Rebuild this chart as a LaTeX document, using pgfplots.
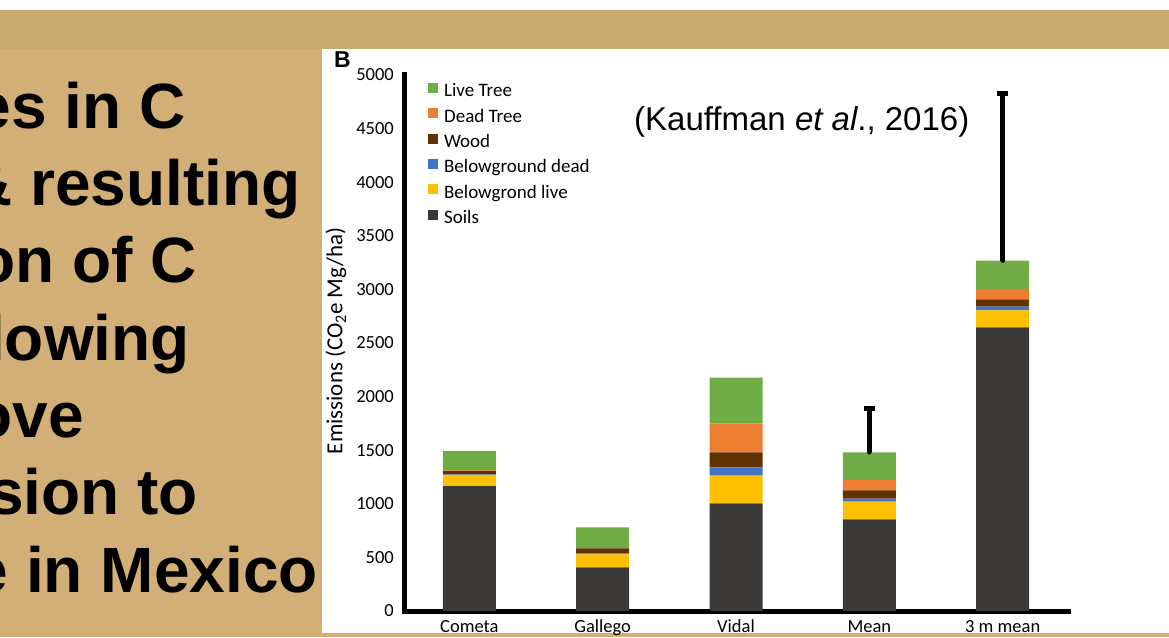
\documentclass[border=0pt]{standalone}
\usepackage{pgfplots}
\usepackage{pgfplotstable}
\pgfplotsset{compat=1.18}
\usepackage{fontspec}
\setmainfont{Carlito}
\newfontfamily\arial{Liberation Sans}
\definecolor{tanA}{HTML}{C8AB72}
\definecolor{tanB}{HTML}{D3AF78}
\definecolor{cLive}{HTML}{70AD47}
\definecolor{cDead}{HTML}{ED7D31}
\definecolor{cWood}{HTML}{613100}
\definecolor{cBgDead}{HTML}{4472C4}
\definecolor{cBgLive}{HTML}{FFC000}
\definecolor{cSoil}{HTML}{3A3938}

\pgfplotstableread{
x soils bglive bgdead wood dead live
0 1166 103 5 32 5 182
1 407 122 8 48 0 196
2 1005 257 78 140 271 425
3 855 165 28 78 96 258
4 2646 159 34 69 96 264
}\datatable

\pgfplotstableread{
x total err top
3 1480 411 1891
4 3268 1555 4823
}\errtable

\begin{document}
\begin{tikzpicture}[x=1pt,y=1pt]
\useasboundingbox (0,0) rectangle (1169,637);
\clip (0,0) rectangle (1169,637);
\fill[white] (0,0) rectangle (1169,637);
\fill[tanA] (0,588) rectangle (1169,627);
\fill[tanB] (0,0) rectangle (322,588);
\fill[tanB] (0,0) rectangle (1169,4);
% slide title fragment
\begin{scope}[every node/.style={anchor=base east, inner sep=0pt, font=\arial\bfseries\fontsize{64}{77}\selectfont}]
\node at (186,508) {es in C};
\node at (301,431) {\& resulting};
\node at (197,354) {on of C};
\node at (190,276) {lowing};
\node at (84,199) {ove};
\node at (198,122) {sion to};
\node at (318,45) {e in Mexico};
\end{scope}
\node[anchor=base west, inner sep=0pt, font=\arial\bfseries\fontsize{23}{27}\selectfont] at (334,569) {B};
\node[anchor=base west, inner sep=0pt, font=\arial\fontsize{33}{39}\selectfont] at (634,506) {(Kauffman \textit{et al}., 2016)};
\node[rotate=90, inner sep=0pt, font=\fontsize{23}{27}\selectfont] at (336,296) {Emissions (CO\textsubscript{2}e Mg/ha)};

\begin{axis}[
  at={(404pt,26pt)}, anchor=south west,
  scale only axis, width=664pt, height=536pt,
  ybar stacked, bar width=53pt,
  xmin=-0.49, xmax=4.49, ymin=0, ymax=5000,
  axis x line=bottom, axis y line=left,
  axis line style={-, line width=5pt, line cap=rect},
  major tick length=0pt,
  xtick={0,1,2,3,4},
  xticklabels={Cometa,Gallego,Vidal,Mean,3 m mean},
  ytick={0,500,...,5000},
  scaled y ticks=false,
  /pgf/number format/1000 sep={},
  /pgf/number format/assume math mode=true,
  tick label style={font=\fontsize{18.5}{21}\selectfont},
  yticklabel style={inner sep=0pt, xshift=-10pt},
  xticklabel style={inner sep=0pt, anchor=base, yshift=-21pt},
  reverse legend,
  legend cell align=left,
  legend style={at={(axis description cs:0.036,0.986)}, anchor=north west,
    draw=none, fill=none, inner sep=0pt, row sep=7.4pt,
    font=\fontsize{19}{22}\selectfont,
    nodes={inner sep=0pt, text height=12pt, text depth=4pt},
    /tikz/every odd column/.append style={column sep=6pt}},
  legend image code/.code={\fill[#1, draw=none] (0pt,0pt) rectangle (10pt,10pt);},
]
\addplot[fill=cSoil, draw=none] table[x=x, y=soils] {\datatable};
\addlegendentry{Soils}
\addplot[fill=cBgLive, draw=none] table[x=x, y=bglive] {\datatable};
\addlegendentry{Belowgrond live}
\addplot[fill=cBgDead, draw=none] table[x=x, y=bgdead] {\datatable};
\addlegendentry{Belowground dead}
\addplot[fill=cWood, draw=none] table[x=x, y=wood] {\datatable};
\addlegendentry{Wood}
\addplot[fill=cDead, draw=none] table[x=x, y=dead] {\datatable};
\addlegendentry{Dead Tree}
\addplot[fill=cLive, draw=none] table[x=x, y=live] {\datatable};
\addlegendentry{Live Tree}
\end{axis}

\begin{axis}[
  at={(404pt,26pt)}, anchor=south west,
  scale only axis, width=664pt, height=536pt,
  xmin=-0.49, xmax=4.49, ymin=0, ymax=5000,
  hide axis, clip=false,
]
\addplot[black, only marks, mark=none,
  error bars/.cd, y dir=plus, y explicit,
  error bar style={line width=5pt, black, solid},
  error mark=none]
  table[x=x, y=total, y error=err] {\errtable};
\addplot[black, only marks, mark=square*,
  mark options={black, solid, line width=0pt, xscale=1, yscale=0.4},
  mark size=5pt]
  table[x=x, y=top] {\errtable};
\end{axis}
\end{tikzpicture}
\end{document}
